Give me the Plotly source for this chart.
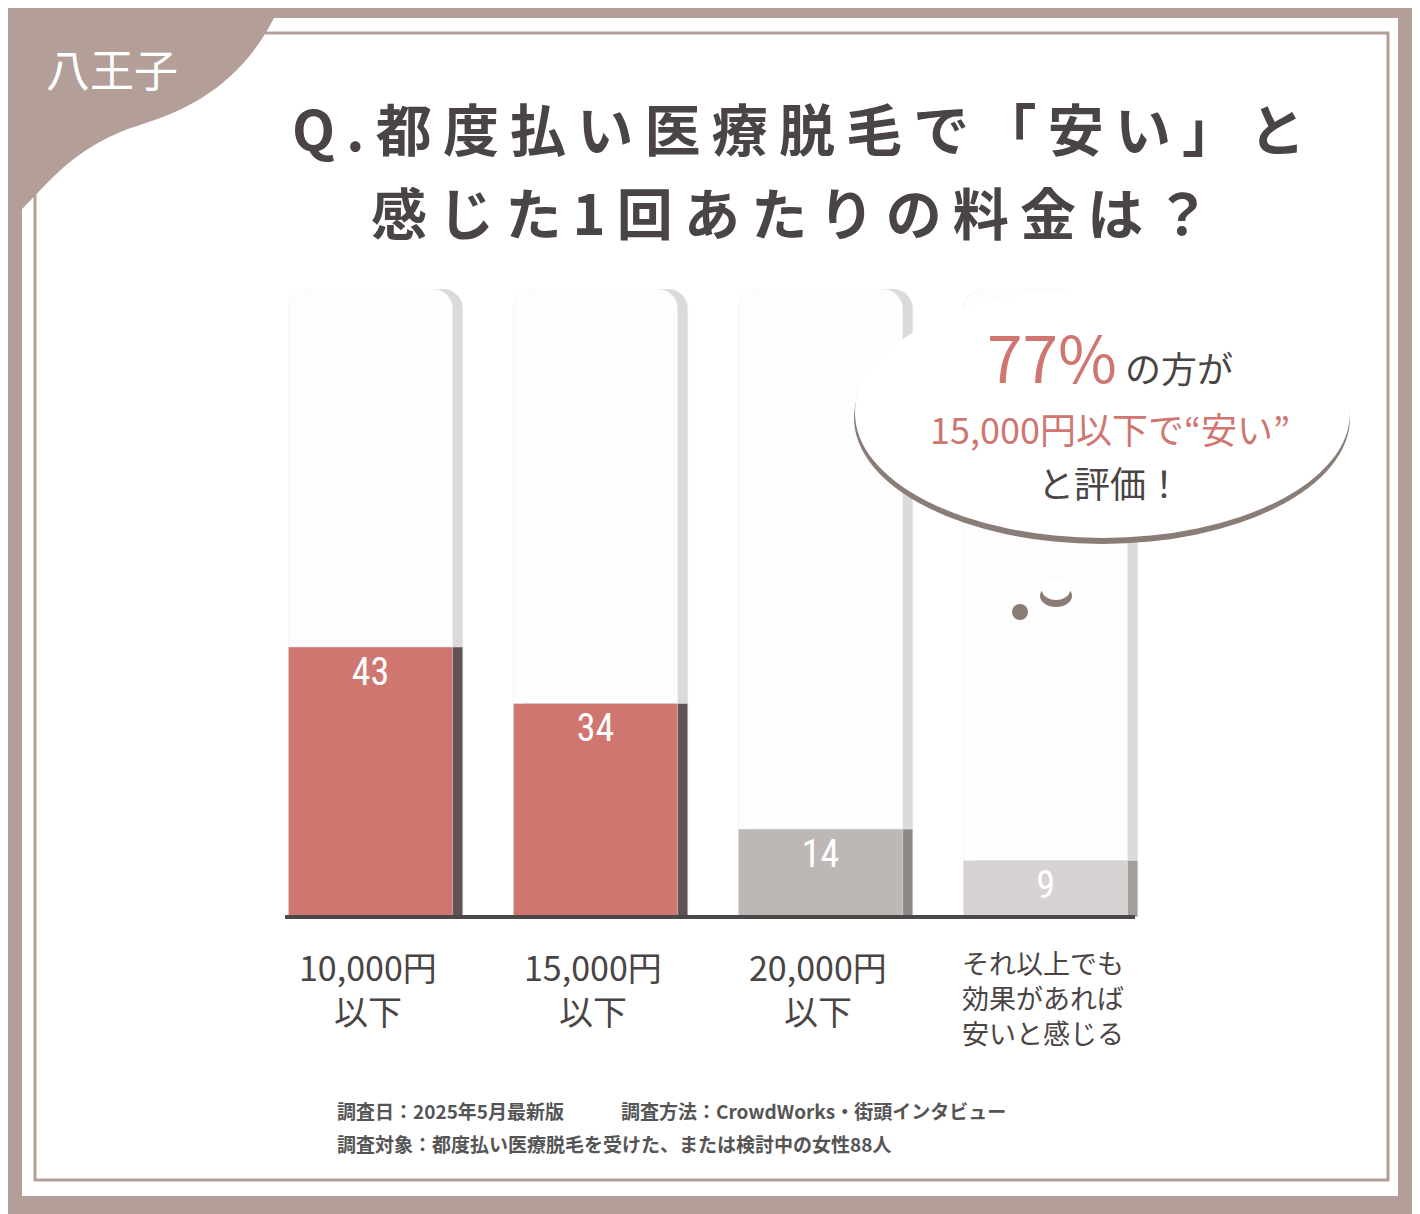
import plotly.graph_objects as go

categories = ["10,000円<br>以下", "15,000円<br>以下", "20,000円<br>以下", "それ以上でも<br>効果があれば<br>安いと感じる"]
values = [43, 34, 14, 9]
bar_colors = ["#cf7670", "#cf7670", "#bdb8b6", "#d6d3d2"]
shadow_colors = ["#5e5352", "#5e5352", "#8f8886", "#a29c9a"]
track_max = [100, 100, 100, 100]

W, H = 1420, 1214
OFF = 8  # page body margin
L, R, T, B = 258 - OFF, 262 + OFF, 289 - OFF, 297 + OFF
PW, PH = W - L - R, H - T - B

def px(x): return (x - OFF - L) / PW
def py(y): return (H - B - (y - OFF)) / PH

xs = list(range(len(categories)))
fig = go.Figure()
bw = 0.73
sh = 0.045
fig.add_bar(x=xs, y=track_max, width=bw, offset=-bw/2 + sh, marker=dict(color="#dcdad9", cornerradius="12%"), hoverinfo="skip", showlegend=False)
fig.add_bar(x=xs, y=track_max, width=bw, offset=-bw/2, marker=dict(color="#fdfdfd", cornerradius="12%"), hoverinfo="skip", showlegend=False)
fig.add_bar(x=xs, y=values, width=bw, offset=-bw/2 + sh, marker=dict(color=shadow_colors, cornerradius="12%"), hoverinfo="skip", showlegend=False)
fig.add_bar(x=xs, y=values, width=bw, offset=-bw/2, marker=dict(color=bar_colors, cornerradius="12%"),
            text=[str(v) for v in values], textposition="inside", insidetextanchor="end",
            textfont=dict(color="white", size=38, family="Roboto Condensed, Roboto, sans-serif"), showlegend=False)

shapes = [
    dict(type="rect", xref="paper", yref="paper", x0=px(22), x1=px(1398), y0=py(18), y1=py(1196), fillcolor="white", line_width=0, layer="below"),
    dict(type="rect", xref="paper", yref="paper", x0=px(35), x1=px(1388), y0=py(33), y1=py(1180), line=dict(color="#b39f97", width=3), layer="below"),
    dict(type="path", xref="paper", yref="paper", layer="above", fillcolor="#b39f97", line_width=0,
         path=f"M {px(0)},{py(0)} L {px(282)},{py(0)} C {px(250)},{py(80)} {px(190)},{py(110)} {px(140)},{py(125)} C {px(60)},{py(150)} {px(40)},{py(200)} {px(0)},{py(228)} Z"),
    dict(type="line", xref="paper", yref="paper", x0=px(285), x1=px(1135), y0=py(917), y1=py(917), line=dict(color="#4d4848", width=4)),
    dict(type="circle", xref="paper", yref="paper", x0=px(854), x1=px(1350), y0=py(292), y1=py(544), fillcolor="#8a7d78", line_width=0),
    dict(type="circle", xref="paper", yref="paper", x0=px(855), x1=px(1350), y0=py(288), y1=py(538), fillcolor="white", line_width=0),
    dict(type="circle", xref="paper", yref="paper", x0=px(1040), x1=px(1072), y0=py(585), y1=py(607), fillcolor="#8a7d78", line_width=0),
    dict(type="circle", xref="paper", yref="paper", x0=px(1042), x1=px(1070), y0=py(580), y1=py(600), fillcolor="white", line_width=0),
    dict(type="circle", xref="paper", yref="paper", x0=px(1012), x1=px(1028), y0=py(604), y1=py(620), fillcolor="#8a7d78", line_width=0),
]

ann = []
def A(x, y, text, size, color="#4a4444", anchor="center", family="Noto Sans CJK JP", **kw):
    ann.append(dict(x=px(x), y=py(y), xref="paper", yref="paper", text=text, showarrow=False,
                    font=dict(size=size, color=color, family=family), xanchor=anchor, yanchor="middle", **kw))

def spaced(s):
    return "\u2009".join(s)

A(112, 68, "八王子", 44, "white")
A(798, 127, "<b>" + spaced("Q.都度払い医療脱毛で「安い」と") + "</b>", 56)
A(790, 210, "<b>" + spaced("感じた1回あたりの料金は？") + "</b>", 56)
for i, c in enumerate(categories):
    cx = OFF + L + (i + 0.5) * PW / 4 - 3
    if i < 3:
        A(cx, 988, c, 34, "#4a4444", align="center")
    else:
        A(cx, 997, c, 27, "#4a4444", align="center")
A(1110, 355, "<span style='font-size:64px;color:#cf7670'>77%</span> の方が", 36)
A(1110, 428, "<span style='color:#cf7670'>15,000円以下で“安い”</span>", 36)
A(1110, 482, "と評価！", 36)
A(335, 1110, "<b>調査日：2025年5月最新版　　　調査方法：CrowdWorks・街頭インタビュー</b>", 19, "#555", anchor="left")
A(335, 1143, "<b>調査対象：都度払い医療脱毛を受けた、または検討中の女性88人</b>", 19, "#555", anchor="left")

fig.update_layout(width=W, height=H, margin=dict(l=L, r=R, t=T, b=B), barmode="overlay",
                  paper_bgcolor="#b39f97", plot_bgcolor="rgba(0,0,0,0)",
                  xaxis=dict(range=[-0.5, 3.5], visible=False),
                  yaxis=dict(range=[0, 100], visible=False),
                  shapes=shapes, annotations=ann, font=dict(family="Noto Sans CJK JP"))
fig.write_html("out.html")
